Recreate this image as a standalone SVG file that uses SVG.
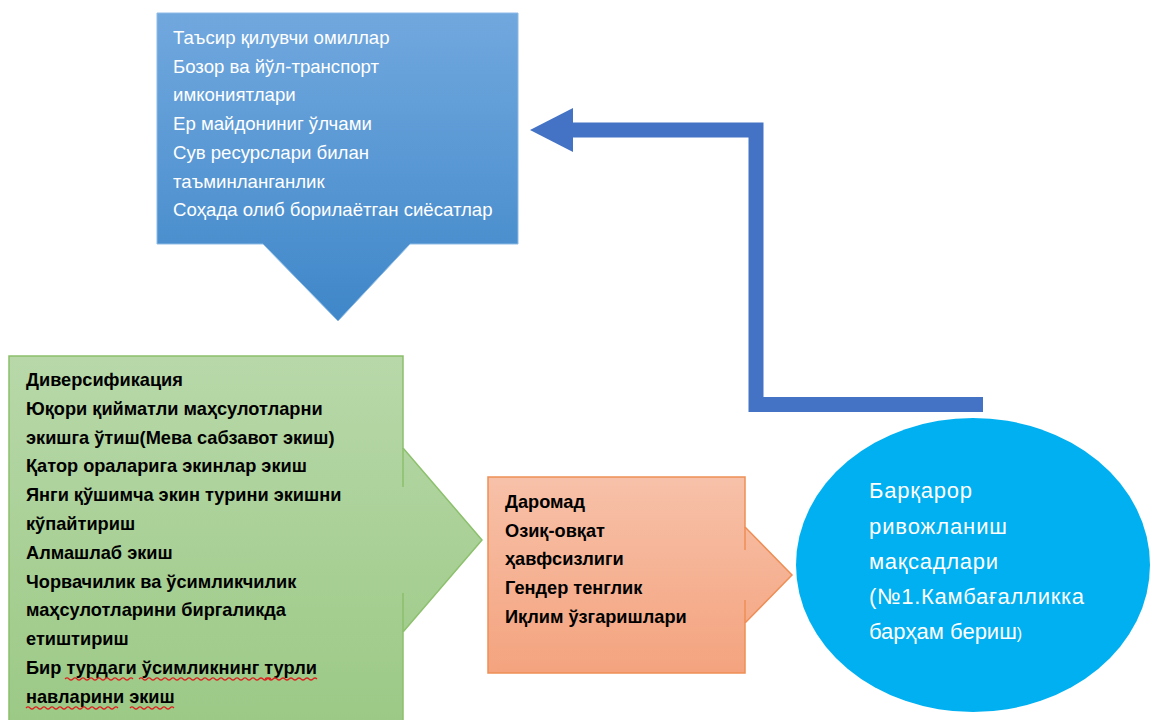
<svg xmlns="http://www.w3.org/2000/svg" width="1152" height="720" viewBox="0 0 1152 720">
<defs>
<linearGradient id="gBlue" x1="0" y1="0" x2="0" y2="1"><stop offset="0" stop-color="#71a8de"/><stop offset="1" stop-color="#3f87c9"/></linearGradient>
<linearGradient id="gGreen" x1="0" y1="0" x2="0" y2="1"><stop offset="0" stop-color="#b8d8a9"/><stop offset="1" stop-color="#9bc985"/></linearGradient>
<linearGradient id="gOrange" x1="0" y1="0" x2="0" y2="1"><stop offset="0" stop-color="#f7c1a9"/><stop offset="1" stop-color="#f4a37e"/></linearGradient>
<marker id="ah" markerUnits="userSpaceOnUse" markerWidth="44" markerHeight="46" refX="1" refY="22" orient="auto" viewBox="0 0 44 46"><path d="M0,0 L43,22 L0,44 Z" fill="#4472c4"/></marker>
</defs>
<style>
.t{font-family:"Liberation Sans",Arial,sans-serif;}
.wt{fill:#ffffff;font-size:18.6px;}
.bk{fill:#000000;font-size:18.2px;font-weight:bold;}
.el{fill:#ffffff;font-size:22px;}
.sq{fill:none;stroke:#e02020;stroke-width:1.2;}
</style>
<rect width="1152" height="720" fill="#ffffff"/>
<g id="connectors">
<path d="M983,404.5 H756 V130 H572" fill="none" stroke="#4472c4" stroke-width="15" stroke-linejoin="miter" marker-end="url(#ah)"/>
</g>
<g id="factors">
<path d="M157,13 H518 V244 H410 L338,321 L263,244 H157 Z" fill="url(#gBlue)" stroke="#8dbbe6" stroke-width="1"/>
<text class="t wt" x="173" y="44">Таъсир қилувчи омиллар</text>
<text class="t wt" x="173" y="72.7">Бозор ва йўл-транспорт</text>
<text class="t wt" x="173" y="101.4">имкониятлари</text>
<text class="t wt" x="173" y="130">Ер майдониниг ўлчами</text>
<text class="t wt" x="173" y="158.8">Сув ресурслари билан</text>
<text class="t wt" x="173" y="187.5">таъминланганлик</text>
<text class="t wt" x="173" y="216">Соҳада олиб борилаётган сиёсатлар</text>
</g>
<g id="diversification">
<path d="M9,356 H403 V448 L482,540 L403,632 V730 H9 Z" fill="url(#gGreen)" stroke="#8cc06c" stroke-width="1.5"/>
<path d="M403,448 V487 M403,593 V632" stroke="#8cc06c" stroke-width="1.5" fill="none"/>
<text class="t bk" x="26" y="386">Диверсификация</text>
<text class="t bk" x="26" y="414.8">Юқори қийматли маҳсулотларни</text>
<text class="t bk" x="26" y="443.6">экишга ўтиш(Мева сабзавот экиш)</text>
<text class="t bk" x="26" y="472.4">Қатор ораларига экинлар экиш</text>
<text class="t bk" x="26" y="501.2">Янги қўшимча экин турини экишни</text>
<text class="t bk" x="26" y="530">кўпайтириш</text>
<text class="t bk" x="26" y="558.8">Алмашлаб экиш</text>
<text class="t bk" x="26" y="587.6">Чорвачилик ва ўсимликчилик</text>
<text class="t bk" x="26" y="616.4">маҳсулотларини биргаликда</text>
<text class="t bk" x="26" y="645.2">етиштириш</text>
<text class="t bk" x="26" y="674">Бир турдаги ўсимликнинг турли</text>
<text class="t bk" x="26" y="702.8">навларини экиш</text>
<path class="sq" d="M65,679 q2,-2 4,0 t4,0 t4,0 t4,0 t4,0 t4,0 t4,0 t4,0 t4,0 t4,0 t4,0 t4,0 t4,0 t4,0 t4,0 t4,0 t4,0"/>
<path class="sq" d="M139,679 q2,-2 4,0 t4,0 t4,0 t4,0 t4,0 t4,0 t4,0 t4,0 t4,0 t4,0 t4,0 t4,0 t4,0 t4,0 t4,0 t4,0 t4,0 t4,0 t4,0 t4,0 t4,0 t4,0 t4,0 t4,0 t4,0 t4,0 t4,0 t4,0 t4,0 t4,0 t4,0 t4,0 t4,0"/>
<path class="sq" d="M265,679 q2,-2 4,0 t4,0 t4,0 t4,0 t4,0 t4,0 t4,0 t4,0 t4,0 t4,0 t4,0 t4,0 t4,0"/>
<path class="sq" d="M26,708 q2,-2 4,0 t4,0 t4,0 t4,0 t4,0 t4,0 t4,0 t4,0 t4,0 t4,0 t4,0 t4,0 t4,0 t4,0 t4,0 t4,0 t4,0 t4,0 t4,0 t4,0 t4,0 t4,0 t4,0"/>
<path class="sq" d="M130,708 q2,-2 4,0 t4,0 t4,0 t4,0 t4,0 t4,0 t4,0 t4,0 t4,0 t4,0 t4,0"/>
</g>
<g id="outcomes">
<path d="M488,477 H745 V527 L792,575 L745,623 V673 H488 Z" fill="url(#gOrange)" stroke="#ee8e55" stroke-width="1.5"/>
<path d="M745,527 V550 M745,600 V623" stroke="#ee8e55" stroke-width="1.5" fill="none"/>
<text class="t bk" x="505" y="508">Даромад</text>
<text class="t bk" x="505" y="537">Озиқ-овқат</text>
<text class="t bk" x="505" y="565">ҳавфсизлиги</text>
<text class="t bk" x="505" y="594">Гендер тенглик</text>
<text class="t bk" x="505" y="623">Иқлим ўзгаришлари</text>
</g>
<g id="sdg">
<ellipse cx="973" cy="565" rx="177" ry="147" fill="#00b0f0"/>
<text class="t el" x="869" y="498" textLength="103">Барқарор</text>
<text class="t el" x="869" y="533.5" textLength="138">ривожланиш</text>
<text class="t el" x="869" y="569" textLength="129">мақсадлари</text>
<text class="t el" x="869" y="604" textLength="215">(№1.Камбағалликка</text>
<text class="t el" x="869" y="639">барҳам бериш<tspan font-size="16">)</tspan></text>
</g>
</svg>
